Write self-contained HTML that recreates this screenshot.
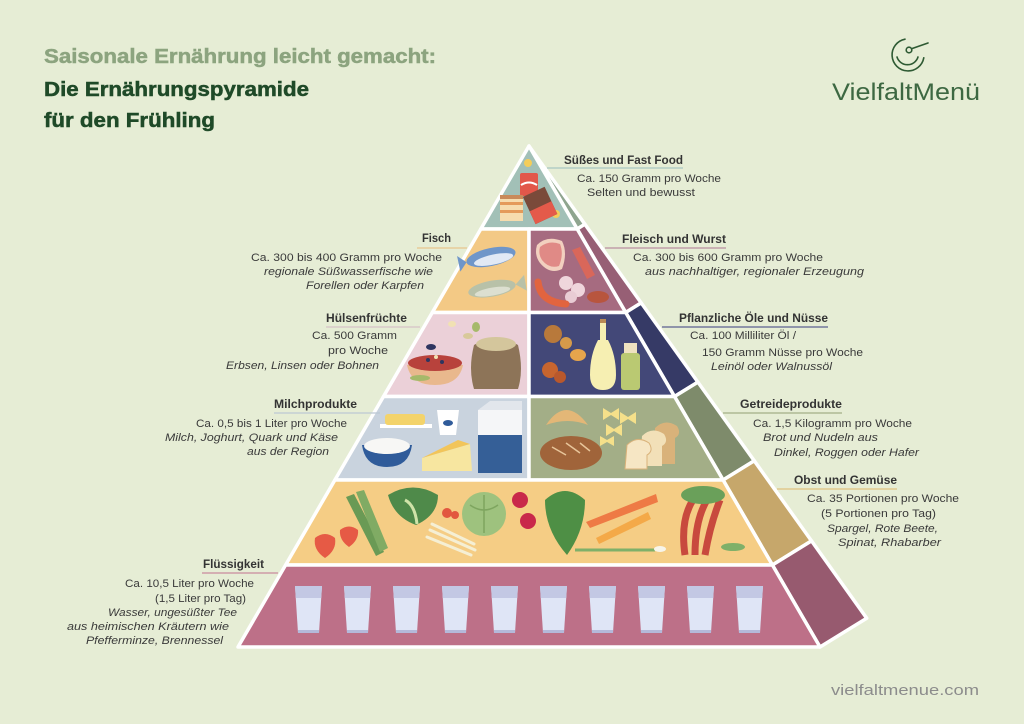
<!DOCTYPE html>
<html lang="de">
<head>
<meta charset="utf-8">
<title>Ernährungspyramide Frühling</title>
<style>
  html,body{margin:0;padding:0;background:#e6edd5;}
  svg{display:block;}
  .t{font-family:"Liberation Sans",sans-serif;font-size:11px;fill:#3a3a3a;}
  .i{font-style:italic;}
  .b{font-family:"Liberation Sans",sans-serif;font-size:11.5px;font-weight:bold;fill:#333;}
</style>
</head>
<body>
<svg width="1024" height="724" viewBox="0 0 1024 724" xmlns="http://www.w3.org/2000/svg">
  <rect width="1024" height="724" fill="#e6edd5"/>

  <!-- Titles -->
  <text x="44" y="63" font-family="Liberation Sans, sans-serif" font-weight="bold" font-size="20" fill="#8ca47f" stroke="#8ca47f" stroke-width="0.5" textLength="392" lengthAdjust="spacingAndGlyphs">Saisonale Ernährung leicht gemacht:</text>
  <text x="44" y="96" font-family="Liberation Sans, sans-serif" font-weight="bold" font-size="20" fill="#1f4a28" stroke="#1f4a28" stroke-width="0.5" textLength="265" lengthAdjust="spacingAndGlyphs">Die Ernährungspyramide</text>
  <text x="44" y="127" font-family="Liberation Sans, sans-serif" font-weight="bold" font-size="20" fill="#1f4a28" stroke="#1f4a28" stroke-width="0.5" textLength="171" lengthAdjust="spacingAndGlyphs">für den Frühling</text>

  <!-- Logo -->
  <g fill="none" stroke="#2e5a33" stroke-width="1.6" stroke-linecap="round">
    <path d="M905,39.2 A16,16 0 1 0 923.8,57.8"/>
    <path d="M897,57 A11,11 0 0 0 918,57"/>
    <circle cx="909" cy="50" r="2.8"/>
    <line x1="911.5" y1="48.8" x2="928" y2="43"/>
  </g>
  <text x="832" y="100" font-family="Liberation Sans, sans-serif" font-size="24" fill="#3d6842" textLength="148" lengthAdjust="spacingAndGlyphs">VielfaltMenü</text>

  <!-- Footer -->
  <text x="831" y="695" font-family="Liberation Sans, sans-serif" font-size="15" fill="#8c8c8c" textLength="148" lengthAdjust="spacingAndGlyphs">vielfaltmenue.com</text>

  <!-- Pyramid -->
  <g stroke="#ffffff" stroke-width="3.5" stroke-linejoin="round">
    <!-- side face -->
    <polygon points="529,146 577.2,229 584.9,224.2" fill="#8fa58f"/>
    <polygon points="577.2,229 625.7,312.5 641.2,302.9 584.9,224.2" fill="#975f75"/>
    <polygon points="625.7,312.5 674.5,396.5 697.9,382.1 641.2,302.9" fill="#363a66"/>
    <polygon points="674.5,396.5 723.1,480 754.3,460.8 697.9,382.1" fill="#7e8b6b"/>
    <polygon points="723.1,480 772.4,565 811.5,540.9 754.3,460.8" fill="#c6a76b"/>
    <polygon points="772.4,565 820,647 866.7,618.2 811.5,540.9" fill="#975a6f"/>
    <!-- front face -->
    <polygon points="529,146 480.8,229 577.2,229" fill="#a2c0b7"/>
    <polygon points="480.8,229 529,229 529,312.5 432.3,312.5" fill="#f3c985"/>
    <polygon points="529,229 577.2,229 625.7,312.5 529,312.5" fill="#a66b80"/>
    <polygon points="432.3,312.5 529,312.5 529,396.5 383.5,396.5" fill="#ebd0d8"/>
    <polygon points="529,312.5 625.7,312.5 674.5,396.5 529,396.5" fill="#434878"/>
    <polygon points="383.5,396.5 529,396.5 529,480 334.9,480" fill="#c9d3de"/>
    <polygon points="529,396.5 674.5,396.5 723.1,480 529,480" fill="#a3ae87"/>
    <polygon points="334.9,480 723.1,480 772.4,565 285.6,565" fill="#f5cd85"/>
    <polygon points="285.6,565 772.4,565 820,647 238,647" fill="#bd7088"/>
  </g>

  <!-- L1 sweets -->
  <circle cx="528" cy="163" r="4" fill="#f4cd5a"/>
  <circle cx="556" cy="214" r="4" fill="#f4cd5a"/>
  <rect x="520" y="173" width="18" height="23" rx="2" fill="#e2574a"/>
  <path d="M521,185 q8,-5 16,0" stroke="#fff" stroke-width="2" fill="none"/>
  <rect x="500" y="195" width="23" height="26" fill="#f6dcae"/>
  <rect x="500" y="202" width="23" height="3" fill="#e49a5a"/>
  <rect x="500" y="210" width="23" height="3" fill="#e49a5a"/>
  <rect x="500" y="195" width="23" height="4" fill="#c98a5a"/>
  <g transform="rotate(-25 541 205)">
    <rect x="528" y="190" width="24" height="30" fill="#7a4a3a"/>
    <rect x="528" y="206" width="24" height="14" fill="#e45a4a"/>
  </g>

  <!-- L2 fish -->
  <g transform="rotate(-12 491 257)">
    <ellipse cx="491" cy="257" rx="25" ry="9" fill="#6f96c9"/>
    <ellipse cx="493" cy="260" rx="20" ry="5" fill="#e1e9f5"/>
    <polygon points="466,257 458,249 458,265" fill="#6f96c9"/>
  </g>
  <g transform="rotate(-10 490 289)">
    <ellipse cx="492" cy="289" rx="24" ry="8" fill="#b8c1a8"/>
    <ellipse cx="492" cy="292" rx="18" ry="4" fill="#dcdfd0"/>
    <polygon points="516,289 526,281 526,297" fill="#b8c1a8"/>
  </g>
  <!-- L2 meat -->
  <path d="M537,245 q10,-10 25,-4 q6,12 0,28 q-12,6 -22,-6 q-6,-8 -3,-18z" fill="#f2d0bf"/>
  <path d="M540,247 q9,-7 20,-3 q4,10 -1,22 q-10,3 -17,-6 q-4,-6 -2,-13z" fill="#e08a86"/>
  <path d="M572,250 l8,-3 l15,28 l-8,4z" fill="#d9675a"/>
  <circle cx="566" cy="283" r="7" fill="#efd6dc"/>
  <circle cx="578" cy="290" r="7" fill="#efd6dc"/>
  <circle cx="571" cy="297" r="6" fill="#e9ccd4"/>
  <path d="M538,282 q2,20 28,22" stroke="#e2643f" stroke-width="7" fill="none" stroke-linecap="round"/>
  <ellipse cx="598" cy="297" rx="11" ry="6" fill="#b8553e"/>

  <!-- L3 legumes -->
  <ellipse cx="452" cy="324" rx="4" ry="3" fill="#f1e1b3"/>
  <ellipse cx="476" cy="327" rx="4" ry="5" fill="#a5b96a"/>
  <ellipse cx="468" cy="336" rx="5" ry="3" fill="#d8c99a"/>
  <ellipse cx="431" cy="347" rx="5" ry="3" fill="#2e3560"/>
  <path d="M407,365 h56 q-4,20 -28,20 q-24,0 -28,-20z" fill="#e9b88d"/>
  <ellipse cx="435" cy="363" rx="27" ry="8" fill="#b8423c"/>
  <circle cx="428" cy="360" r="2" fill="#2e3560"/><circle cx="442" cy="362" r="2" fill="#2e3560"/><circle cx="436" cy="357" r="2" fill="#f1e1b3"/>
  <path d="M474,345 q22,-14 44,0 q6,25 0,44 h-44 q-6,-20 0,-44z" fill="#8d7458"/>
  <ellipse cx="496" cy="344" rx="20" ry="7" fill="#d4c69c"/>
  <ellipse cx="420" cy="378" rx="10" ry="3" fill="#a5b96a"/>
  <!-- L3 oils/nuts -->
  <circle cx="553" cy="334" r="9" fill="#b8793b"/>
  <circle cx="566" cy="343" r="6" fill="#d59a4a"/>
  <ellipse cx="578" cy="355" rx="8" ry="6" fill="#e6a54c"/>
  <circle cx="550" cy="370" r="8" fill="#c7652f"/>
  <circle cx="560" cy="377" r="6" fill="#b9582c"/>
  <path d="M598,340 h10 q8,15 8,35 q0,15 -13,15 q-13,0 -13,-15 q0,-20 8,-35z" fill="#f6efb2"/>
  <rect x="600" y="322" width="6" height="18" fill="#f6efb2"/>
  <rect x="600" y="319" width="6" height="4" fill="#b98a55"/>
  <rect x="621" y="353" width="19" height="37" rx="3" fill="#bac972"/>
  <rect x="624" y="343" width="13" height="10" fill="#efe2c0"/>

  <!-- L4 dairy -->
  <rect x="380" y="424" width="52" height="4" fill="#fff"/>
  <rect x="385" y="414" width="40" height="11" rx="3" fill="#f3d36b"/>
  <path d="M437,410 h22 l-3,25 h-16z" fill="#fff"/>
  <ellipse cx="448" cy="423" rx="5" ry="3" fill="#2f5b9a"/>
  <rect x="478" y="410" width="44" height="63" fill="#f5f6f8"/>
  <polygon points="478,410 490,401 522,401 522,410" fill="#e2e6ec"/>
  <rect x="478" y="435" width="44" height="38" fill="#355f97"/>
  <path d="M362,445 h50 q-3,22 -25,22 q-22,0 -25,-22z" fill="#2f5b9a"/>
  <ellipse cx="387" cy="446" rx="23" ry="8" fill="#f7f7f5"/>
  <polygon points="422,458 470,444 472,471 422,471" fill="#f7e6a0"/>
  <polygon points="422,458 470,444 458,440" fill="#f2c55a"/>
  <!-- L4 grains -->
  <path d="M546,425 q20,-30 42,0 q-20,-8 -42,0z" fill="#e3b777"/>
  <ellipse cx="571" cy="453" rx="31" ry="17" fill="#a0643a"/>
  <path d="M552,447 l14,8 M566,443 l14,10 M580,443 l10,8" stroke="#e8c59a" stroke-width="1.5"/>
  <g fill="#f5e08a">
    <path d="M603,408 l8,5 l8,-5 v12 l-8,-5 l-8,5z"/>
    <path d="M620,412 l8,5 l8,-5 v12 l-8,-5 l-8,5z"/>
    <path d="M606,424 l8,5 l8,-5 v12 l-8,-5 l-8,5z"/>
    <path d="M600,436 l7,4 l7,-4 v10 l-7,-4 l-7,4z"/>
  </g>
  <path d="M655,428 q10,-10 22,-2 q5,8 -2,12 v26 h-22z" fill="#d9b27a"/>
  <path d="M642,436 q10,-10 22,-2 q5,8 -2,12 v20 h-22z" fill="#f2e0b8"/>
  <path d="M627,445 q10,-10 22,-2 q5,8 -2,12 v14 h-22z" fill="#f6e6c4" stroke="#d9b27a" stroke-width="1"/>

  <!-- L5 vegetables -->
  <path d="M315,538 q10,-8 20,0 q2,12 -10,20 q-12,-8 -10,-20z" fill="#e65a45"/>
  <path d="M340,530 q9,-7 18,0 q1,10 -9,17 q-10,-7 -9,-17z" fill="#e65a45"/>
  <path d="M346,497 l8,-3 l30,58 l-8,4z" fill="#6a9a55"/>
  <path d="M356,492 l8,-2 l24,58 l-8,4z" fill="#80ab64"/>
  <path d="M388,495 q25,-15 50,0 q0,20 -22,30 q-22,-8 -28,-30z" fill="#4f8a4a"/>
  <path d="M405,500 q10,5 12,24" stroke="#cfe3a8" stroke-width="3" fill="none"/>
  <circle cx="447" cy="513" r="5" fill="#e2573f"/><circle cx="455" cy="515" r="4" fill="#e2573f"/>
  <path d="M430,530 l45,20 M427,537 l44,18 M432,524 l42,20" stroke="#f5efd4" stroke-width="3" stroke-linecap="round"/>
  <circle cx="484" cy="514" r="22" fill="#9ec27e"/>
  <path d="M470,505 q14,10 28,0 M484,495 v38" stroke="#7ea55f" stroke-width="1.5" fill="none"/>
  <circle cx="520" cy="500" r="8" fill="#c9284a"/>
  <circle cx="528" cy="521" r="8" fill="#c9284a"/>
  <path d="M545,500 q20,-18 40,0 q0,30 -18,55 q-22,-25 -22,-55z" fill="#4e8f45"/>
  <path d="M586,522 l70,-28 l2,8 l-68,26z" fill="#ee7a45"/>
  <path d="M596,538 l52,-26 l3,7 l-52,25z" fill="#f4a948"/>
  <path d="M575,550 h80" stroke="#7fb069" stroke-width="3"/>
  <ellipse cx="660" cy="549" rx="6" ry="3" fill="#f7f5ea"/>
  <path d="M685,555 q-5,-35 8,-55 M695,555 q0,-35 12,-55 M705,555 q5,-30 15,-55" stroke="#c8493e" stroke-width="7" fill="none"/>
  <ellipse cx="703" cy="495" rx="22" ry="9" fill="#6aa05a"/>
  <ellipse cx="733" cy="547" rx="12" ry="4" fill="#7fb069"/>

  <!-- L6 glasses -->
  <g>
    <g id="gl">
      <path d="M295,586 h27 l-3,47 h-21z" fill="#dfe5f6"/>
      <path d="M295,586 h27 l-0.8,12 h-25.4z" fill="#c3c8e4"/>
      <rect x="298" y="630" width="21" height="3" fill="#b4b9da"/>
    </g>
    <use href="#gl" x="49"/>
    <use href="#gl" x="98"/>
    <use href="#gl" x="147"/>
    <use href="#gl" x="196"/>
    <use href="#gl" x="245"/>
    <use href="#gl" x="294"/>
    <use href="#gl" x="343"/>
    <use href="#gl" x="392"/>
    <use href="#gl" x="441"/>
  </g>

  <!-- Underlines -->
  <g stroke-width="1.2">
    <line x1="547" y1="168" x2="683" y2="168" stroke="#a8c7c2"/>
    <line x1="417" y1="248" x2="467" y2="248" stroke="#e8c68e"/>
    <line x1="605" y1="248" x2="726" y2="248" stroke="#b98ea0"/>
    <line x1="326" y1="327" x2="420" y2="327" stroke="#d6c3c8"/>
    <line x1="662" y1="327" x2="828" y2="327" stroke="#5b6090"/>
    <line x1="274" y1="413" x2="380" y2="413" stroke="#bcc8d4"/>
    <line x1="723" y1="413" x2="842" y2="413" stroke="#a3b088"/>
    <line x1="777" y1="489" x2="897" y2="489" stroke="#e0c27f"/>
    <line x1="202" y1="573" x2="278" y2="573" stroke="#c98a9d"/>
  </g>

  <!-- Right labels -->
  <text class="b" x="564" y="164" textLength="119" lengthAdjust="spacingAndGlyphs">Süßes und Fast Food</text>
  <text class="t" x="577" y="182" textLength="144" lengthAdjust="spacingAndGlyphs">Ca. 150 Gramm pro Woche</text>
  <text class="t" x="587" y="196" textLength="108" lengthAdjust="spacingAndGlyphs">Selten und bewusst</text>

  <text class="b" x="622" y="243" textLength="104" lengthAdjust="spacingAndGlyphs">Fleisch und Wurst</text>
  <text class="t" x="633" y="261" textLength="190" lengthAdjust="spacingAndGlyphs">Ca. 300 bis 600 Gramm pro Woche</text>
  <text class="t i" x="645" y="275" textLength="219" lengthAdjust="spacingAndGlyphs">aus nachhaltiger, regionaler Erzeugung</text>

  <text class="b" x="679" y="322" textLength="149" lengthAdjust="spacingAndGlyphs">Pflanzliche Öle und Nüsse</text>
  <text class="t" x="690" y="339" textLength="106" lengthAdjust="spacingAndGlyphs">Ca. 100 Milliliter Öl /</text>
  <text class="t" x="702" y="356" textLength="161" lengthAdjust="spacingAndGlyphs">150 Gramm Nüsse pro Woche</text>
  <text class="t i" x="711" y="370" textLength="121" lengthAdjust="spacingAndGlyphs">Leinöl oder Walnussöl</text>

  <text class="b" x="740" y="408" textLength="102" lengthAdjust="spacingAndGlyphs">Getreideprodukte</text>
  <text class="t" x="753" y="427" textLength="159" lengthAdjust="spacingAndGlyphs">Ca. 1,5 Kilogramm pro Woche</text>
  <text class="t i" x="763" y="441" textLength="115" lengthAdjust="spacingAndGlyphs">Brot und Nudeln aus</text>
  <text class="t i" x="774" y="456" textLength="145" lengthAdjust="spacingAndGlyphs">Dinkel, Roggen oder Hafer</text>

  <text class="b" x="794" y="484" textLength="103" lengthAdjust="spacingAndGlyphs">Obst und Gemüse</text>
  <text class="t" x="807" y="502" textLength="152" lengthAdjust="spacingAndGlyphs">Ca. 35 Portionen pro Woche</text>
  <text class="t" x="821" y="517" textLength="115" lengthAdjust="spacingAndGlyphs">(5 Portionen pro Tag)</text>
  <text class="t i" x="827" y="532" textLength="111" lengthAdjust="spacingAndGlyphs">Spargel, Rote Beete,</text>
  <text class="t i" x="838" y="546" textLength="103" lengthAdjust="spacingAndGlyphs">Spinat, Rhabarber</text>

  <!-- Left labels -->
  <text class="b" x="422" y="242" textLength="29" lengthAdjust="spacingAndGlyphs">Fisch</text>
  <text class="t" x="251" y="261" textLength="191" lengthAdjust="spacingAndGlyphs">Ca. 300 bis 400 Gramm pro Woche</text>
  <text class="t i" x="264" y="275" textLength="169" lengthAdjust="spacingAndGlyphs">regionale Süßwasserfische wie</text>
  <text class="t i" x="306" y="289" textLength="118" lengthAdjust="spacingAndGlyphs">Forellen oder Karpfen</text>

  <text class="b" x="326" y="322" textLength="81" lengthAdjust="spacingAndGlyphs">Hülsenfrüchte</text>
  <text class="t" x="312" y="339" textLength="85" lengthAdjust="spacingAndGlyphs">Ca. 500 Gramm</text>
  <text class="t" x="328" y="354" textLength="60" lengthAdjust="spacingAndGlyphs">pro Woche</text>
  <text class="t i" x="226" y="369" textLength="153" lengthAdjust="spacingAndGlyphs">Erbsen, Linsen oder Bohnen</text>

  <text class="b" x="274" y="408" textLength="83" lengthAdjust="spacingAndGlyphs">Milchprodukte</text>
  <text class="t" x="196" y="427" textLength="151" lengthAdjust="spacingAndGlyphs">Ca. 0,5 bis 1 Liter pro Woche</text>
  <text class="t i" x="165" y="441" textLength="173" lengthAdjust="spacingAndGlyphs">Milch, Joghurt, Quark und Käse</text>
  <text class="t i" x="247" y="455" textLength="82" lengthAdjust="spacingAndGlyphs">aus der Region</text>

  <text class="b" x="203" y="568" textLength="61" lengthAdjust="spacingAndGlyphs">Flüssigkeit</text>
  <text class="t" x="125" y="587" textLength="129" lengthAdjust="spacingAndGlyphs">Ca. 10,5 Liter pro Woche</text>
  <text class="t" x="155" y="602" textLength="91" lengthAdjust="spacingAndGlyphs">(1,5 Liter pro Tag)</text>
  <text class="t i" x="108" y="616" textLength="129" lengthAdjust="spacingAndGlyphs">Wasser, ungesüßter Tee</text>
  <text class="t i" x="67" y="630" textLength="162" lengthAdjust="spacingAndGlyphs">aus heimischen Kräutern wie</text>
  <text class="t i" x="86" y="644" textLength="137" lengthAdjust="spacingAndGlyphs">Pfefferminze, Brennessel</text>
</svg>
</body>
</html>
